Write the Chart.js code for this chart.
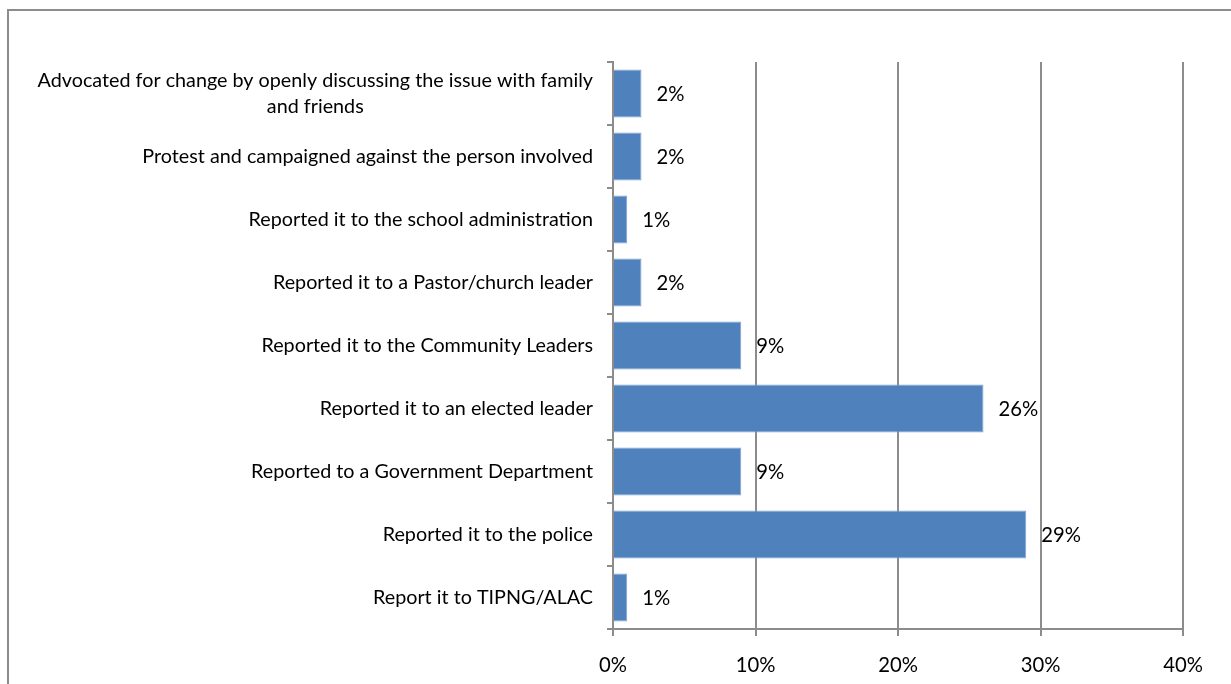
<!DOCTYPE html>
<html>
<head>
<meta charset="utf-8">
<script src="https://cdn.jsdelivr.net/npm/chart.js@4.4.1/dist/chart.umd.min.js"></script>
<style>
html, body { margin: 0; padding: 0; background: #fff; overflow: hidden; }
#frame { position: absolute; left: 7px; top: 9px; width: 1400px; height: 900px;
         border-left: 2px solid #8c8c8c; border-top: 2px solid #8c8c8c; }
#wrap { position: absolute; left: 0; top: 0; width: 1231px; height: 684px; }
</style>
</head>
<body>
<div id="frame"></div>
<div id="wrap"><canvas id="myChart" width="1231" height="684"></canvas></div>
<script>
// answers, top to bottom
var categories = [
    ["Advocated for change by openly discussing the issue with family", "and friends"],
    "Protest and campaigned against the person involved",
    "Reported it to the school administration",
    "Reported it to a Pastor/church leader",
    "Reported it to the Community Leaders",
    "Reported it to an elected leader",
    "Reported to a Government Department",
    "Reported it to the police",
    "Report it to TIPNG/ALAC"
];
var values = [2, 2, 1, 2, 9, 26, 9, 29, 1];
var xTicks = [0, 10, 20, 30, 40];

var fontFamily = "Lato, 'Open Sans', sans-serif";
var fontSize = 19.75;
var lineGray = "#8c8c8c";
var barBlue = "#4f81bd";

// category labels: block right-aligned against the axis, lines centred in the block
var categoryLabels = {
    id: "categoryLabels",
    afterDraw: function (chart) {
        var yScale = chart.scales.y;
        var ctx = chart.ctx;
        var lineH = 26;
        ctx.save();
        ctx.font = fontSize + "px " + fontFamily;
        ctx.fillStyle = "#000";
        ctx.textAlign = "center";
        ctx.textBaseline = "middle";
        var right = yScale.right - 6 - 14;
        categories.forEach(function (label, i) {
            var lines = [].concat(label);
            var w = Math.max.apply(null, lines.map(function (l) { return ctx.measureText(l).width; }));
            var y = yScale.getPixelForValue(i);
            var top = y - (lines.length - 1) * lineH / 2;
            lines.forEach(function (line, j) {
                ctx.fillText(line, right - w / 2, top + j * lineH);
            });
        });
        ctx.restore();
    }
};

// value labels just past the end of each bar
var valueLabels = {
    id: "valueLabels",
    afterDatasetsDraw: function (chart) {
        var ctx = chart.ctx;
        var meta = chart.getDatasetMeta(0);
        ctx.save();
        ctx.font = (fontSize + 0.5) + "px " + fontFamily;
        ctx.fillStyle = "#000";
        ctx.textAlign = "left";
        ctx.textBaseline = "middle";
        meta.data.forEach(function (bar, i) {
            ctx.fillText(values[i] + "%", bar.x + 15, bar.y + 1);
        });
        ctx.restore();
    }
};

var config = {
    type: "bar",
    data: {
        labels: categories.map(function (c) { return [].concat(c).join(" "); }),
        datasets: [{
            data: values,
            backgroundColor: barBlue,
            borderColor: "#7fa3d0",
            borderWidth: 1,
            borderSkipped: "left",
            categoryPercentage: 1,
            barPercentage: 0.76
        }]
    },
    options: {
        indexAxis: "y",
        responsive: false,
        animation: false,
        events: [],
        layout: {
            padding: { top: 62, right: 48, left: 0, bottom: 0 }
        },
        plugins: {
            legend: { display: false },
            tooltip: { enabled: false }
        },
        scales: {
            x: {
                min: xTicks[0],
                max: xTicks[xTicks.length - 1],
                afterBuildTicks: function (scale) {
                    scale.ticks = xTicks.map(function (v) { return { value: v }; });
                },
                afterFit: function (scale) { scale.height = 55; },
                grid: {
                    color: lineGray,
                    lineWidth: 2,
                    tickLength: 7,
                    drawTicks: true
                },
                border: { display: true, color: lineGray, width: 2 },
                ticks: {
                    color: "#000",
                    padding: 17,
                    maxRotation: 0,
                    font: { family: fontFamily, size: fontSize + 0.5 },
                    callback: function (v) { return v + "%"; }
                }
            },
            y: {
                afterFit: function (scale) { scale.width = 613; },
                grid: {
                    drawOnChartArea: false,
                    color: lineGray,
                    lineWidth: 2,
                    tickLength: 6
                },
                border: { display: true, color: lineGray, width: 2 },
                ticks: { display: false }
            }
        }
    },
    plugins: [categoryLabels, valueLabels]
};

var ctx = document.getElementById("myChart").getContext("2d");
var myChart = new Chart(ctx, config);
</script>
</body>
</html>
